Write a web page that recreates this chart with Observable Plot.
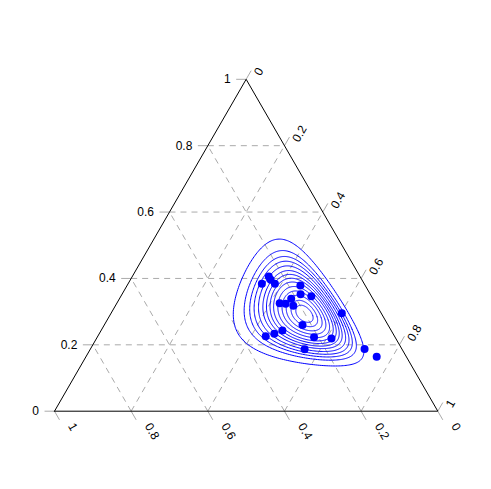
<!DOCTYPE html>
<html>
<head>
<meta charset="utf-8">
<script src="https://cdn.jsdelivr.net/npm/d3@7"></script>
<script src="https://cdn.jsdelivr.net/npm/@observablehq/plot@0.6"></script>
<style>
  html, body { margin: 0; padding: 0; background: #fff; }
  #chart { width: 491px; height: 489px; }
</style>
</head>
<body>
<div id="chart"></div>
<script>
// Compositions (A = bottom axis, 1 at left; B = right axis, 1 at bottom-right; C = left axis, 1 at top)
const compA = [0.267, 0.238, 0.238, 0.233, 0.169, 0.182, 0.157, 0.213, 0.250, 0.235, 0.218,
               0.103, 0.223, 0.284, 0.310, 0.336, 0.2115, 0.168, 0.254, 0.0975, 0.0775];
const compB = [0.349, 0.356, 0.366, 0.383, 0.452, 0.466, 0.497, 0.448, 0.425, 0.441, 0.464,
               0.602, 0.517, 0.473, 0.457, 0.438, 0.566, 0.613, 0.559, 0.715, 0.761];
const compC = [0.384, 0.406, 0.396, 0.384, 0.379, 0.352, 0.346, 0.339, 0.325, 0.324, 0.318,
               0.295, 0.260, 0.243, 0.233, 0.226, 0.223, 0.219, 0.187, 0.187, 0.165];

// Contours: logistic-normal ellipses (ilr coordinates)
const contourCenter = [0.652, -0.07];
const contourCov = [[0.62, 0.037], [0.037, 0.594]];
const contourRadii = [0.13, 0.20, 0.27, 0.33, 0.39, 0.45, 0.50, 0.55, 0.60, 0.66, 0.72, 0.78, 0.855, 1.0];

// Axis ticks
const tickValues = [0, 0.2, 0.4, 0.6, 0.8, 1];
const tickLabels = ["0", "0.2", "0.4", "0.6", "0.8", "1"];
const gridValues = [0.2, 0.4, 0.6, 0.8];

const S3 = Math.sqrt(3) / 2;
function toXY(a, b, c) {
  const s = a + b + c;
  a /= s; b /= s; c /= s;
  return {x: b + c / 2, y: c * S3};
}

// points
const points = compA.map((a, i) => toXY(a, compB[i], compC[i]));

// contour curves
const r2 = Math.SQRT2, r6 = Math.sqrt(6);
const [m1, m2] = contourCenter;
const s11 = contourCov[0][0], s12 = contourCov[0][1], s22 = contourCov[1][1];
const L11 = Math.sqrt(s11), L21 = s12 / L11, L22 = Math.sqrt(s22 - L21 * L21);
function ilrInv(z1, z2) {
  const la = -z1 / r2 - z2 / r6, lb = z1 / r2 - z2 / r6, lc = 2 * z2 / r6;
  return toXY(Math.exp(la), Math.exp(lb), Math.exp(lc));
}
const contours = [];
contourRadii.forEach((r, k) => {
  const N = 240;
  for (let j = 0; j <= N; j++) {
    const t = 2 * Math.PI * j / N;
    const u = Math.cos(t), v = Math.sin(t);
    const p = ilrInv(m1 + r * L11 * u, m2 + r * (L21 * u + L22 * v));
    contours.push({x: p.x, y: p.y, level: k});
  }
});

// triangle outline
const tri = [toXY(1, 0, 0), toXY(0, 1, 0), toXY(0, 0, 1), toXY(1, 0, 0)];

// grid lines
const grid = [];
for (const v of gridValues) {
  let p = toXY(1 - v, 0, v), q = toXY(0, 1 - v, v); grid.push({x1: p.x, y1: p.y, x2: q.x, y2: q.y});
  p = toXY(v, 1 - v, 0); q = toXY(v, 0, 1 - v); grid.push({x1: p.x, y1: p.y, x2: q.x, y2: q.y});
  p = toXY(1 - v, v, 0); q = toXY(0, v, 1 - v); grid.push({x1: p.x, y1: p.y, x2: q.x, y2: q.y});
}

// ticks (length in data units; scale is isotropic)
const TL = 0.026;
const leftTicks = [], bottomTicks = [], rightTicks = [];
tickValues.forEach((v, i) => {
  const pl = toXY(1 - v, 0, v);
  leftTicks.push({x1: pl.x, y1: pl.y, x2: pl.x - TL, y2: pl.y, label: tickLabels[i]});
  const pb = toXY(v, 1 - v, 0);
  bottomTicks.push({x1: pb.x, y1: pb.y, x2: pb.x + TL * 0.5, y2: pb.y - TL * S3, label: tickLabels[i]});
  const pr = toXY(0, v, 1 - v);
  rightTicks.push({x1: pr.x, y1: pr.y, x2: pr.x + TL * 0.5, y2: pr.y + TL * S3, label: tickLabels[i]});
});

const font = "Liberation Sans, Arial, Helvetica, sans-serif";
const gridColor = "#aaaaaa";

const plot = Plot.plot({
  width: 491,
  height: 489,
  marginLeft: 54,
  marginRight: 53.7,
  marginTop: 78.8,
  marginBottom: 78.3,
  x: {domain: [0, 1], axis: null},
  y: {domain: [0, S3], axis: null},
  style: {fontFamily: font, fontSize: "12px", background: "#fff", overflow: "visible"},
  marks: [
    Plot.link(grid, {x1: "x1", y1: "y1", x2: "x2", y2: "y2", stroke: gridColor, strokeWidth: 1, strokeDasharray: "6,5"}),
    Plot.link(leftTicks, {x1: "x1", y1: "y1", x2: "x2", y2: "y2", stroke: gridColor, strokeWidth: 1}),
    Plot.link(bottomTicks, {x1: "x1", y1: "y1", x2: "x2", y2: "y2", stroke: gridColor, strokeWidth: 1}),
    Plot.link(rightTicks, {x1: "x1", y1: "y1", x2: "x2", y2: "y2", stroke: gridColor, strokeWidth: 1}),
    Plot.line(tri, {x: "x", y: "y", stroke: "#000", strokeWidth: 1}),
    Plot.text(leftTicks, {x: "x1", y: "y1", text: "label", textAnchor: "end", dx: -15.5, fill: "#000", fontSize: 12}),
    Plot.text(bottomTicks, {x: "x1", y: "y1", text: "label", textAnchor: "start", rotate: 60, dx: 16.6, dy: 13, fill: "#000", fontSize: 12}),
    Plot.text(rightTicks, {x: "x1", y: "y1", text: "label", textAnchor: "start", rotate: -60, dx: 11, dy: -4.6, fill: "#000", fontSize: 12}),
    Plot.line(contours, {x: "x", y: "y", z: "level", stroke: "#0000ff", strokeWidth: 1}),
    Plot.dot(points, {x: "x", y: "y", r: 4, fill: "#0000ff", stroke: "none"})
  ]
});
document.getElementById("chart").appendChild(plot);
</script>
</body>
</html>
